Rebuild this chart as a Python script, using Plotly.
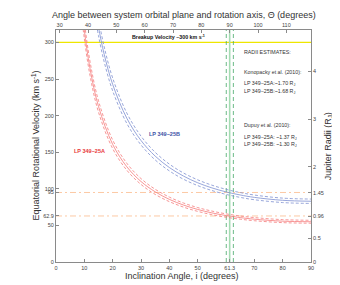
import plotly.graph_objects as go

# ---- data ----
incl_A = [9, 10, 12, 15, 20, 25, 30, 35, 40, 45, 50, 55, 60, 65, 70, 80, 90]
vel_A = [351.6, 316.7, 264.5, 212.5, 160.8, 130.1, 110.0, 95.9, 85.6, 77.8, 71.8, 67.1, 63.5, 60.7, 58.5, 55.8, 55.0]
vel_A_hi = [364.4, 328.2, 274.2, 220.2, 166.7, 134.9, 114.0, 99.4, 88.7, 80.6, 74.4, 69.6, 65.8, 62.9, 60.7, 57.9, 57.0]
vel_A_lo = [338.8, 305.2, 254.9, 204.8, 155.0, 125.4, 106.0, 92.4, 82.5, 75.0, 69.2, 64.7, 61.2, 58.5, 56.4, 53.8, 53.0]

incl_B = [14, 15, 17, 20, 25, 30, 35, 40, 45, 50, 55, 60, 65, 70, 80, 90]
vel_B = [343.1, 320.7, 283.9, 242.7, 196.4, 166.0, 144.7, 129.1, 117.4, 108.3, 101.3, 95.8, 91.6, 88.3, 84.3, 83.0]
vel_B_hi = [355.5, 332.3, 294.2, 251.4, 203.5, 172.0, 149.9, 133.8, 121.6, 112.3, 105.0, 99.3, 94.9, 91.5, 87.3, 86.0]
vel_B_lo = [330.7, 309.1, 273.6, 233.9, 189.3, 160.0, 139.5, 124.5, 113.1, 104.4, 97.7, 92.4, 88.3, 85.1, 81.2, 80.0]

breakup_v = 300
vel_lines = [95, 62.9]
incl_best = 61.3
incl_err = [60.1, 62.6]

x_ticks = [0, 10, 20, 30, 40, 50, 61.3, 70, 80, 90]
x_ticktext = ["0", "10", "20", "30", "40", "50", "61.3", "70", "80", "90"]
y_ticks = [0, 50, 62.9, 95, 100, 150, 200, 250, 300]
y_ticktext = ["0", "50", "62.9", "95", "100", "150", "200", "250", "300"]
y2_ticks = [0, 0.5, 0.96, 1.45, 2, 3, 4]
y2_ticktext = ["0", "0.5", "0.96", "1.45", "2", "3", "4"]
x2_ticks = [30, 40, 50, 60, 70, 80, 90, 100, 110]

RED = "#f57a7a"
BLUE = "#7d8fd0"
PEACH = "#fcc9a4"
GREEN_L = "#a5dcb3"
GREEN_D = "#46aa6a"
YELLOW = "#eee600"

fig = go.Figure()

# horizontal reference lines
fig.add_trace(go.Scatter(x=[0, 90], y=[breakup_v, breakup_v], mode="lines",
                         line=dict(color=YELLOW, width=1.2), hoverinfo="skip"))
for v in vel_lines:
    fig.add_trace(go.Scatter(x=[0, 90], y=[v, v], mode="lines",
                             line=dict(color=PEACH, width=1, dash="6px,3px,2px,3px"), hoverinfo="skip"))

# vertical inclination lines
fig.add_trace(go.Scatter(x=[incl_best, incl_best], y=[0, 317], mode="lines",
                         line=dict(color=GREEN_L, width=1.6), hoverinfo="skip"))
for xv in incl_err:
    fig.add_trace(go.Scatter(x=[xv, xv], y=[0, 317], mode="lines",
                             line=dict(color=GREEN_D, width=0.8, dash="4px,3px"), hoverinfo="skip"))

# curves
for xs, ys, col, dash in [
    (incl_A, vel_A_hi, RED, "3px,2px"), (incl_A, vel_A_lo, RED, "3px,2px"), (incl_A, vel_A, RED, "solid"),
    (incl_B, vel_B_hi, BLUE, "3px,2px"), (incl_B, vel_B_lo, BLUE, "3px,2px"), (incl_B, vel_B, BLUE, "solid"),
]:
    fig.add_trace(go.Scatter(x=xs, y=ys, mode="lines", line=dict(color=col, width=0.8, dash=dash, shape="spline"),
                             hoverinfo="skip"))

# invisible trace for secondary axes
fig.add_trace(go.Scatter(x=[30], y=[0], xaxis="x2", yaxis="y2", mode="markers",
                         marker=dict(opacity=0), hoverinfo="skip"))

axis_common = dict(showgrid=False, zeroline=False, showline=True, linecolor="#8a8a8a", linewidth=1,
                   ticks="inside", ticklen=3, tickcolor="#8a8a8a", tickwidth=0.8,
                   tickfont=dict(size=5.5, color="#444444"))

fig.update_layout(
    width=340, height=285,
    margin=dict(l=48, r=37, t=22, b=31),
    paper_bgcolor="white", plot_bgcolor="white",
    showlegend=False,
    font=dict(family="Liberation Sans, Arial, sans-serif", color="#222222"),
    xaxis=dict(range=[0, 90], tickvals=x_ticks, ticktext=x_ticktext, **axis_common),
    xaxis2=dict(range=[28.7, 118.7], overlaying="x", side="top", tickvals=x2_ticks,
                ticktext=[str(t) for t in x2_ticks], **axis_common),
    yaxis=dict(range=[0, 317], tickvals=y_ticks, ticktext=y_ticktext, **axis_common),
    yaxis2=dict(range=[0, 4.87], overlaying="y", side="right", tickvals=y2_ticks, ticktext=y2_ticktext,
                **axis_common),
)

ann = []
# axis titles
ann.append(dict(text="Angle between system orbital plane and rotation axis, \u0398 (degrees)",
                xref="paper", yref="paper", x=0.5, y=1.063, showarrow=False, font=dict(size=9, color="#333"),
                xanchor="center", yanchor="middle"))
ann.append(dict(text="Inclination Angle, i (degrees)", xref="paper", yref="paper", x=0.496, y=-0.062,
                showarrow=False, font=dict(size=9, color="#333"), xanchor="center", yanchor="middle"))
ann.append(dict(text="Equatorial Rotational Velocity (km s<sup>-1</sup>)", xref="paper", yref="paper",
                x=-0.08, y=0.5, textangle=-90, showarrow=False, font=dict(size=9, color="#333"),
                xanchor="center", yanchor="middle"))
ann.append(dict(text="Jupiter Radii (R<sub>J</sub>)", xref="paper", yref="paper",
                x=1.068, y=0.5, textangle=-90, showarrow=False, font=dict(size=9, color="#333"),
                xanchor="center", yanchor="middle"))

# in-plot labels
ann.append(dict(text="<b>Breakup Velocity ~300 km s<sup>-1</sup></b>", x=39.7, y=307, xref="x", yref="y",
                showarrow=False, font=dict(size=5.3, color="#111"), xanchor="center", yanchor="middle"))
ann.append(dict(text="<b>LP 349\u221225A</b>", x=11.9, y=152, xref="x", yref="y", showarrow=False,
                font=dict(size=5.5, color="#e8383c"), xanchor="center", yanchor="middle"))
ann.append(dict(text="<b>LP 349\u221225B</b>", x=38.4, y=174.6, xref="x", yref="y", showarrow=False,
                font=dict(size=5.5, color="#3e52a6"), xanchor="center", yanchor="middle"))

right_texts = [
    ("RADII ESTIMATES:", 286.8),
    ("Konopacky et al. (2010):", 259.4),
    ("LP 349\u221225A:~1.70 R<sub>J</sub>", 244.4),
    ("LP 349\u221225B:~1.68 R<sub>J</sub>", 233.0),
    ("Dupuy et al. (2010):", 187.3),
    ("LP 349\u221225A: ~1.37 R<sub>J</sub>", 170.5),
    ("LP 349\u221225B: ~1.30 R<sub>J</sub>", 160.0),
]
for t, yv in right_texts:
    ann.append(dict(text=t, x=65.8, y=yv, xref="x", yref="y", showarrow=False,
                    font=dict(size=5.3, color="#333"), xanchor="left", yanchor="middle"))

fig.update_layout(annotations=ann)
fig.write_html("out.html")
